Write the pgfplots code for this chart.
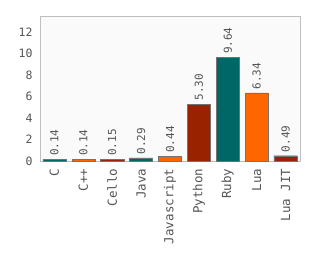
\documentclass[border=0pt]{standalone}
\usepackage{pgfplots}
\pgfplotsset{compat=1.18}
\usepackage{fontspec}
\setmainfont{DejaVu Sans Mono}
\definecolor{cteal}{HTML}{006666}
\definecolor{corange}{HTML}{FF6600}
\definecolor{cred}{HTML}{992200}
\definecolor{txt}{HTML}{555555}
\begin{document}
\begin{tikzpicture}
\path (0,0) rectangle (315pt,265pt);
\begin{axis}[
  at={(40pt,104pt)}, anchor=south west,
  scale only axis, width=260pt, height=145pt,
  xmin=-0.5, xmax=8.5, ymin=0, ymax=13.5,
  ytick={0,2,4,6,8,10,12},
  xtick={0,...,8},
  xticklabels={C,C++,Cello,Java,Javascript,Python,Ruby,Lua,Lua JIT},
  x tick label style={rotate=90, anchor=east, font=\fontsize{12.5}{13}\selectfont, text=txt},
  y tick label style={font=\fontsize{11.5}{12}\selectfont, text=txt, xshift=-4pt},
  /pgf/number format/assume math mode=true,
  tick style={draw=none},
  axis line style={draw=black!25},
  axis background/.style={fill=black!2},
  nodes near coords={\pgfmathprintnumber[fixed,fixed zerofill,precision=2]{\pgfplotspointmeta}},
  nodes near coords style={rotate=90, anchor=west, font=\fontsize{11}{12}\selectfont, text=txt},
  ybar, bar width=0.8, bar shift=0pt,
]
\addplot[fill=cteal, draw=black!55, line width=0.4pt] coordinates {(0,0.14) (3,0.29) (6,9.64)};
\addplot[fill=corange, draw=black!55, line width=0.4pt] coordinates {(1,0.14) (4,0.44) (7,6.34)};
\addplot[fill=cred, draw=black!55, line width=0.4pt] coordinates {(2,0.15) (5,5.30) (8,0.49)};
\end{axis}
\end{tikzpicture}
\end{document}
